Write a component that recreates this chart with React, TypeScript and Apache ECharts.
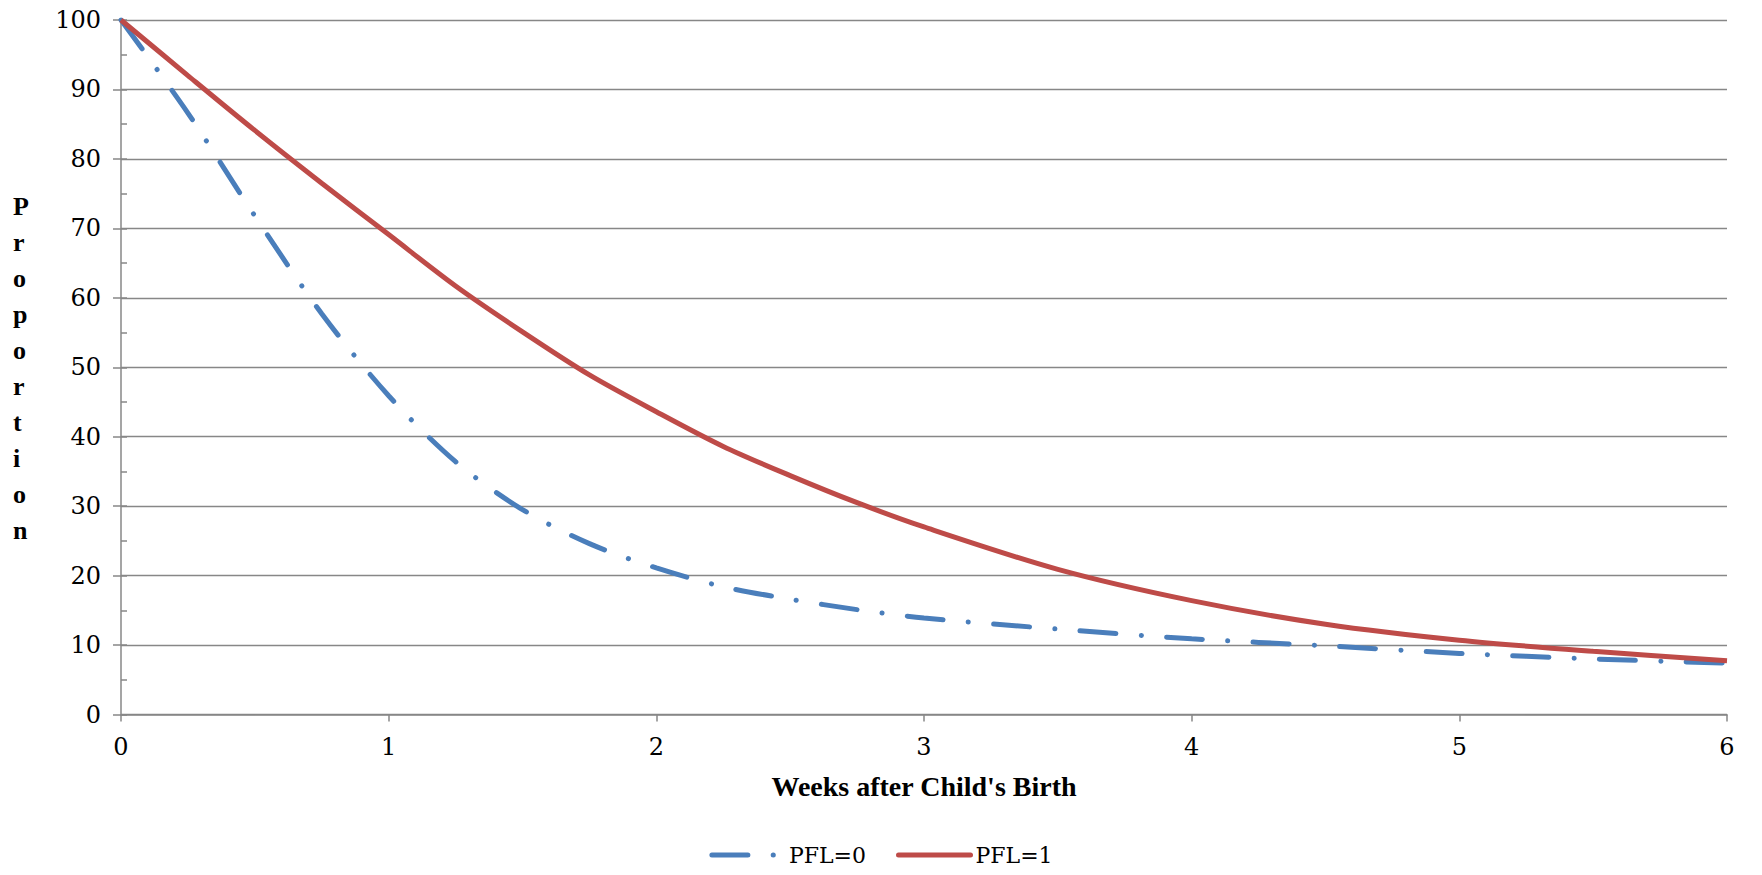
import React, { useEffect, useRef } from "react";
import * as echarts from "echarts";

const weeks = [0, 0.25, 0.5, 0.75, 1, 1.25, 1.5, 1.75, 2, 2.25, 2.5, 2.75, 3, 3.5, 4, 4.5, 5, 5.5, 6];
const pfl0 = [100, 86.6, 71.8, 57.7, 45.9, 36.4, 29.5, 24.6, 21.1, 18.4, 16.6, 15.1, 13.9, 12.3, 10.9, 9.9, 8.8, 8.0, 7.4];
const pfl1 = [100, 92.0, 84.1, 76.5, 69.1, 61.7, 55.1, 48.9, 43.6, 38.6, 34.4, 30.5, 27.0, 20.9, 16.4, 13.0, 10.7, 9.1, 7.75];
const seriesNames = ["PFL=0", "PFL=1"];
const xTitle = "Weeks after Child's Birth";
const yTitle = "Proportion";

const BLUE = "#4A7EBB";
const RED = "#BE4B48";
const GRID = "#878787";

export default function App() {
  const ref = useRef<HTMLDivElement>(null);
  useEffect(() => {
    if (!ref.current) return;
    const chart = echarts.init(ref.current, null, { renderer: "svg" });
    const tickFont = { fontFamily: "DejaVu Serif", fontSize: 24, color: "#000" };
    chart.setOption({
      animation: false,
      backgroundColor: "#fff",
      grid: { left: 121, right: 35, top: 20, bottom: 160.5 },
      legend: {
        bottom: 4,
        left: "center",
        itemWidth: 72,
        itemHeight: 6,
        itemGap: 30,
        itemStyle: { opacity: 0 },
        lineStyle: { width: 5, cap: "round" },
        textStyle: { fontFamily: "DejaVu Serif", fontSize: 22, color: "#000" },
        data: seriesNames,
      },
      graphic: [
        {
          type: "text",
          left: 13,
          top: 188,
          style: {
            text: yTitle.split("").join("\n"),
            fontFamily: "Liberation Serif",
            fontWeight: "bold",
            fontSize: 26,
            lineHeight: 36,
            align: "center",
            fill: "#000",
          },
        },
      ],
      xAxis: {
        type: "value",
        min: 0,
        max: 6,
        interval: 1,
        name: xTitle,
        nameLocation: "middle",
        nameGap: 58,
        nameTextStyle: { fontFamily: "Liberation Serif", fontWeight: "bold", fontSize: 28, color: "#000" },
        axisLine: { lineStyle: { color: GRID, width: 1.5 } },
        axisTick: { show: true, length: 7, lineStyle: { color: GRID, width: 1.5 } },
        axisLabel: { ...tickFont, margin: 20 },
        splitLine: { show: false },
      },
      yAxis: [
        {
          type: "value",
          min: 0,
          max: 100,
          interval: 10,
          axisLine: { show: true, lineStyle: { color: GRID, width: 1.5 } },
          axisTick: { show: true, length: 8, lineStyle: { color: GRID, width: 1.5 } },
          axisLabel: { ...tickFont, margin: 20 },
          splitLine: { show: true, lineStyle: { color: GRID, width: 1.3 } },
        },
        {
          type: "value",
          position: "left",
          min: 0,
          max: 100,
          interval: 5,
          axisLine: { show: false },
          axisTick: { show: true, inside: true, length: 6, lineStyle: { color: GRID, width: 1.5 } },
          axisLabel: { show: false },
          splitLine: { show: false },
        },
      ],
      series: [
        {
          name: seriesNames[0],
          type: "line",
          yAxisIndex: 0,
          smooth: 0.3,
          symbol: "none",
          color: BLUE,
          lineStyle: { color: BLUE, width: 5, type: [36, 25.3, 0.1, 25.3], cap: "round" },
          data: weeks.map((w, i) => [w, pfl0[i]]),
          z: 3,
        },
        {
          name: seriesNames[1],
          type: "line",
          yAxisIndex: 0,
          smooth: 0.3,
          symbol: "none",
          color: RED,
          lineStyle: { color: RED, width: 5 },
          data: weeks.map((w, i) => [w, pfl1[i]]),
          z: 4,
        },
      ],
    });
    return () => chart.dispose();
  }, []);
  return <div ref={ref} style={{ position: "fixed", left: 0, top: 0, width: 1762, height: 875 }} />;
}
